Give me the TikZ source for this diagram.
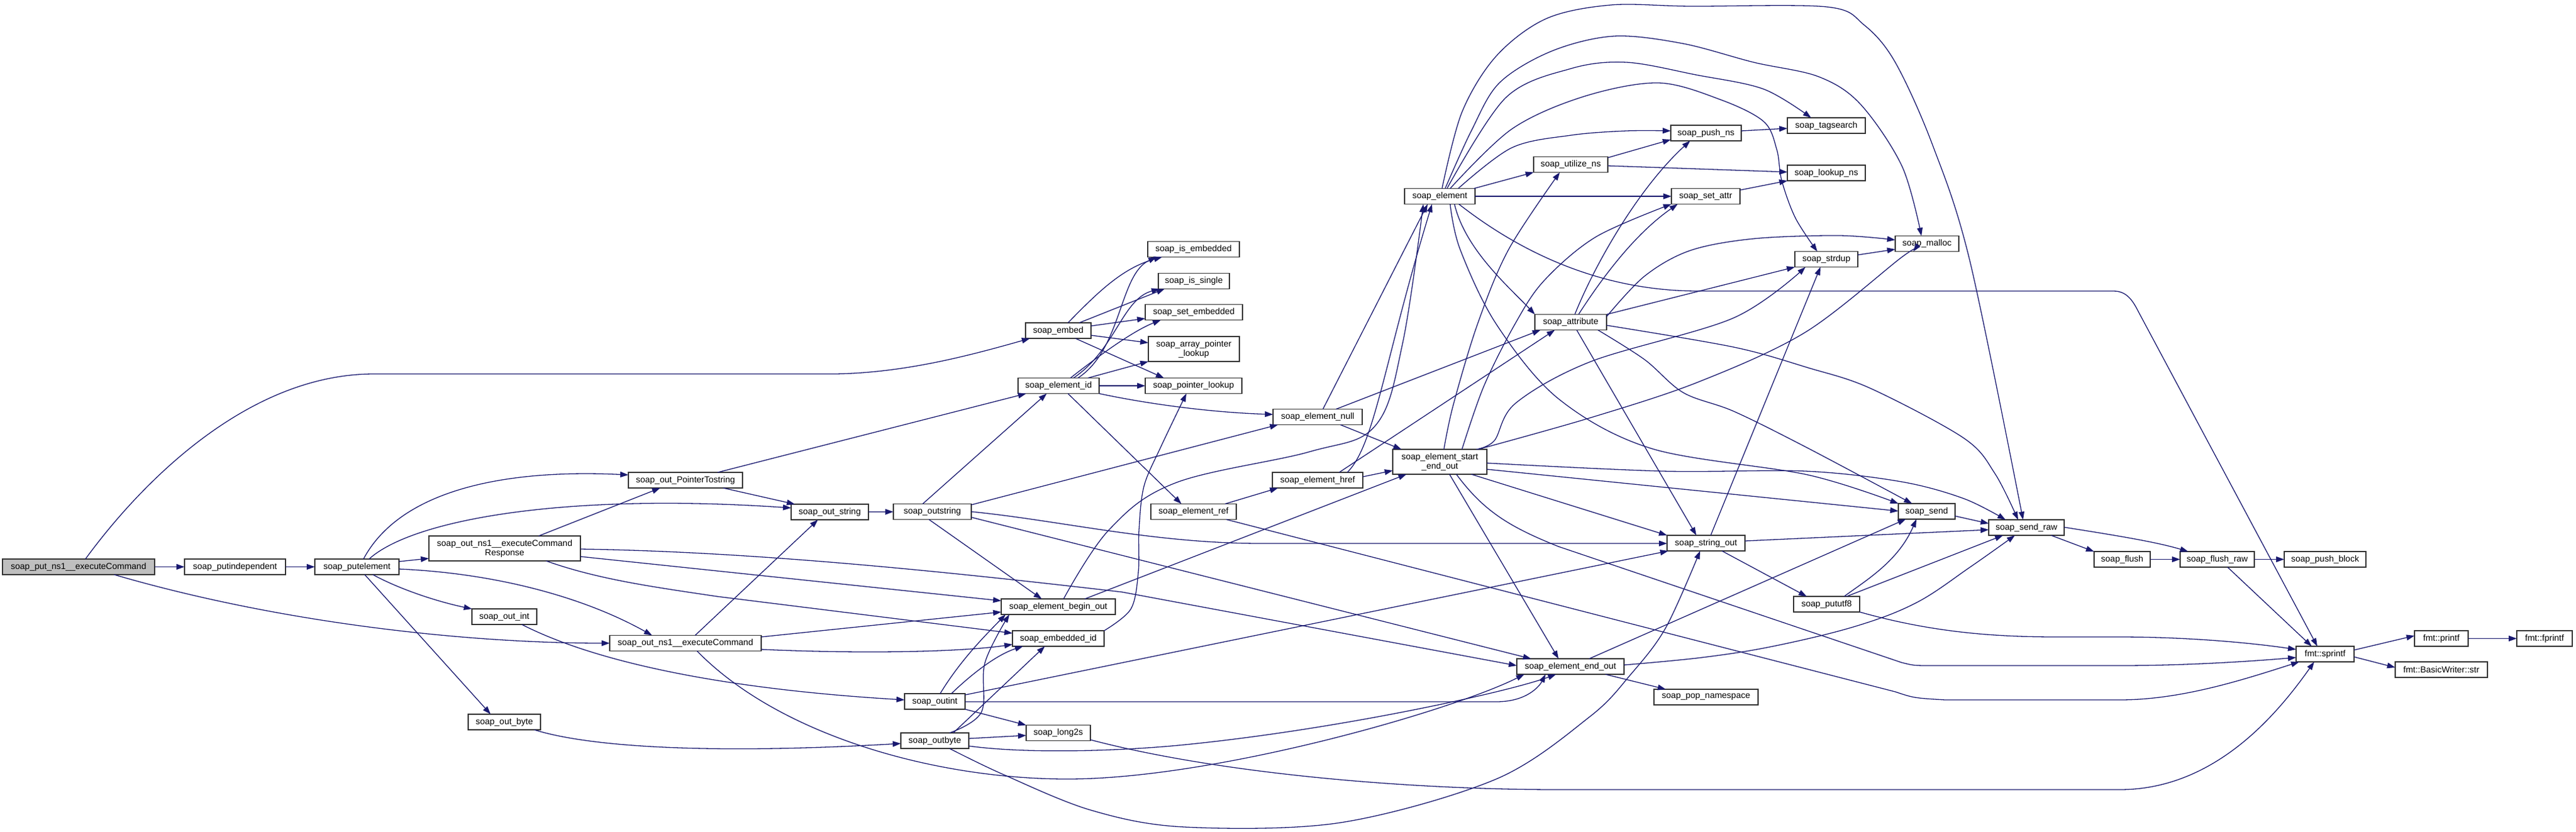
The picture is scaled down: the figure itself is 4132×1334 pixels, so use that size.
\documentclass[tikz,border=0pt]{standalone}
\usepackage{fontspec}
\setmainfont{Liberation Sans}
\usetikzlibrary{arrows.meta}
\definecolor{edgec}{HTML}{191970}
\definecolor{mainfill}{HTML}{BFBFBF}
\begin{document}
\begin{tikzpicture}[x=1pt,y=-1pt,
  fn/.style={draw=black!80, line width=1.5pt, fill=white, inner sep=0pt, outer sep=0pt,
    minimum height=25pt, align=center, font=\fontsize{14}{15}\selectfont},
  e/.style={draw=edgec, line width=1.3pt, -{Triangle[length=13pt,width=9pt]}}]
\fill[white] (0,0) rectangle (4132,1334);
\useasboundingbox (0,0) rectangle (4132,1334);
% nodes
\node[fn, fill=mainfill, minimum width=244pt] (main) at (126,909.5) {soap\_put\_ns1\_\_executeCommand};
\node[fn, minimum width=162pt] (putind) at (377,909.5) {soap\_putindependent};
\node[fn, minimum width=135pt] (putel) at (572.5,909.5) {soap\_putelement};
\node[fn, minimum width=183pt] (ptr) at (1099.5,770.5) {soap\_out\_PointerTostring};
\node[fn, minimum width=124pt] (outstr) at (1331,821.5) {soap\_out\_string};
\node[fn, minimum width=243pt, minimum height=40pt] (resp) at (809.5,880) {soap\_out\_ns1\_\_executeCommand\\Response};
\node[fn, minimum width=104pt] (ointx) at (809,989.5) {soap\_out\_int};
\node[fn, minimum width=243pt] (outns1) at (1099.5,1032) {soap\_out\_ns1\_\_executeCommand};
\node[fn, minimum width=116pt] (obytex) at (809,1158.5) {soap\_out\_byte};
\node[fn, minimum width=125pt] (ostring) at (1495.5,821) {soap\_outstring};
\node[fn, minimum width=183pt] (bout) at (1697.5,973.5) {soap\_element\_begin\_out};
\node[fn, minimum width=147pt] (emid) at (1697.5,1024.5) {soap\_embedded\_id};
\node[fn, minimum width=97pt] (oint) at (1499.5,1125.5) {soap\_outint};
\node[fn, minimum width=103pt] (l2s) at (1697.5,1176) {soap\_long2s};
\node[fn, minimum width=109pt] (obyte) at (1499.5,1188.5) {soap\_outbyte};
\node[fn, minimum width=147pt] (isemb) at (1914.5,400) {soap\_is\_embedded};
\node[fn, minimum width=114pt] (issgl) at (1915,451) {soap\_is\_single};
\node[fn, minimum width=156pt] (setemb) at (1915,501) {soap\_set\_embedded};
\node[fn, minimum width=146pt, minimum height=40pt] (arrpl) at (1915,560) {soap\_array\_pointer\\\_lookup};
\node[fn, minimum width=155pt] (ptrl) at (1914.5,619) {soap\_pointer\_lookup};
\node[fn, minimum width=105pt] (embed) at (1697.5,530.5) {soap\_embed};
\node[fn, minimum width=130pt] (eid) at (1698,619) {soap\_element\_id};
\node[fn, minimum width=143pt] (enull) at (2113.5,669) {soap\_element\_null};
\node[fn, minimum width=145pt] (ehref) at (2113.5,770.5) {soap\_element\_href};
\node[fn, minimum width=137pt] (eref) at (1914.5,821) {soap\_element\_ref};
\node[fn, minimum width=151pt, minimum height=40pt] (seo) at (2309.5,741) {soap\_element\_start\\\_end\_out};
\node[fn, minimum width=172pt] (eeo) at (2519,1069.5) {soap\_element\_end\_out};
\node[fn, minimum width=113pt] (elem) at (2309.5,315) {soap\_element};
\node[fn, minimum width=119pt] (utns) at (2519.5,264) {soap\_utilize\_ns};
\node[fn, minimum width=113pt] (pushns) at (2736.5,213.5) {soap\_push\_ns};
\node[fn, minimum width=110pt] (setattr) at (2736,315) {soap\_set\_attr};
\node[fn, minimum width=125pt] (tags) at (2929.5,201.5) {soap\_tagsearch};
\node[fn, minimum width=125pt] (lkns) at (2929.5,277.5) {soap\_lookup\_ns};
\node[fn, minimum width=102pt] (malloc) at (3091,391) {soap\_malloc};
\node[fn, minimum width=101pt] (strdup) at (2929.5,416) {soap\_strdup};
\node[fn, minimum width=115pt] (attr) at (2519.5,517) {soap\_attribute};
\node[fn, minimum width=125pt] (sout) at (2736.5,871.5) {soap\_string\_out};
\node[fn, minimum width=91pt] (send) at (3090.5,820.5) {soap\_send};
\node[fn, minimum width=121pt] (sraw) at (3250.5,846.5) {soap\_send\_raw};
\node[fn, minimum width=106pt] (putf8) at (2930,969.5) {soap\_pututf8};
\node[fn, minimum width=167pt] (popns) at (2736.5,1118.5) {soap\_pop\_namespace};
\node[fn, minimum width=90pt] (flush) at (3404,897.5) {soap\_flush};
\node[fn, minimum width=119pt] (fraw) at (3556.5,897.5) {soap\_flush\_raw};
\node[fn, minimum width=131pt] (pblock) at (3729.5,897.5) {soap\_push\_block};
\node[fn, minimum width=93pt] (sprintf) at (3729.5,1049.5) {fmt::sprintf};
\node[fn, minimum width=86pt] (printf) at (3916,1024.5) {fmt::printf};
\node[fn, minimum width=89pt] (fprintf) at (4081.5,1024.5) {fmt::fprintf};
\node[fn, minimum width=148pt] (bwstr) at (3916,1074.5) {fmt::BasicWriter::str};
% edges
\draw[e] (main) -- (putind);
\draw[e] (putind) -- (putel);
\draw[e] (main.north -| 137,0) .. controls (230,770) and (400,600) .. (600,600) -- (1340,600) .. controls (1450,598) and (1550,572) .. (embed.south -| 1652,0);
\draw[e] (main.south -| 183,0) .. controls (450,1000) and (750,1032) .. (outns1.west);
\draw[e] (putel.east |- 0,901) -- (resp.west |- 0,896);
\draw[e] (putel.north -| 583,0) .. controls (640,790) and (800,752) .. (ptr.west |- 0,762);
\draw[e] (putel.north -| 592,0) .. controls (660,835) and (900,790) .. (outstr.west |- 0,815);
\draw[e] (putel.south -| 598,0) .. controls (640,945) and (700,965) .. (ointx.north west);
\draw[e] (putel.south -| 585,0) -- (obytex.north -| 787,0);
\draw[e] (putel.east |- 0,913) .. controls (800,920) and (940,960) .. (outns1.north -| 1046,0);
\draw[e] (resp.north -| 864,0) -- (ptr.south -| 1059,0);
\draw[e] (resp.east |- 0,893) -- (bout.west |- 0,964);
\draw[e] (resp.south -| 876,0) .. controls (960,930) and (1050,942) .. (1150,957) -- (emid.west |- 0,1016);
\draw[e] (resp.east |- 0,881) .. controls (1200,885) and (1500,915) .. (1800,950) -- (eeo.west |- 0,1068);
\draw[e] (outns1.north -| 1115,0) -- (outstr.south -| 1312,0);
\draw[e] (outns1.east |- 0,1022) -- (bout.west |- 0,982);
\draw[e] (outns1.east |- 0,1042) .. controls (1400,1050) and (1550,1045) .. (emid.west |- 0,1034);
\draw[e] (outns1.south -| 1118,0) .. controls (1250,1180) and (1500,1250) .. (1712,1250) .. controls (1950,1250) and (2330,1140) .. (eeo.south -| 2445,0);
\draw[e] (ptr.north -| 1151,0) -- (eid.south -| 1646,0);
\draw[e] (ptr.south -| 1160,0) -- (outstr.north -| 1275,0);
\draw[e] (outstr) -- (ostring);
\draw[e] (ostring.north -| 1480,0) -- (eid.south -| 1679,0);
\draw[e] (ostring.east |- 0,810) -- (enull.south -| 2050,0);
\draw[e] (ostring.south -| 1490,0) -- (bout.north -| 1671,0);
\draw[e] (ostring.east |- 0,821) .. controls (1700,835) and (1850,872) .. (2023,872) -- (sout.west |- 0,872);
\draw[e] (ostring.east |- 0,830) -- (eeo.north -| 2456,0);
\draw[e] (eid.north -| 1729,0) .. controls (1800,560) and (1795,440) .. (isemb.south -| 1855,0);
\draw[e] (eid.north -| 1722,0) .. controls (1790,560) and (1800,480) .. (issgl.south -| 1860,0);
\draw[e] (eid.north -| 1717,0) .. controls (1770,565) and (1820,530) .. (setemb.south -| 1862,0);
\draw[e] (eid.north -| 1745,0) -- (arrpl.south west);
\draw[e] (eid) -- (ptrl);
\draw[e] (eid.south east) .. controls (1850,650) and (1950,662) .. (enull.west |- 0,665);
\draw[e] (eid.south -| 1713,0) -- (eref.north -| 1895,0);
\draw[e] (embed.north -| 1713,0) .. controls (1760,470) and (1800,430) .. (isemb.south -| 1864,0);
\draw[e] (embed.north -| 1731,0) -- (issgl.south -| 1868,0);
\draw[e] (embed.east |- 0,523) -- (setemb.west |- 0,511);
\draw[e] (embed.east |- 0,538) -- (arrpl.west |- 0,550);
\draw[e] (embed.south -| 1725,0) -- (ptrl.north -| 1867,0);
\draw[e] (enull.north -| 2122,0) -- (elem.south -| 2290,0);
\draw[e] (enull.north -| 2143,0) -- (attr.south -| 2471,0);
\draw[e] (enull.south -| 2150,0) -- (seo.north -| 2248,0);
\draw[e] (eref.north -| 1965,0) -- (ehref.south -| 2050,0);
\draw[e] (eref.south -| 1967,0) -- (3040,1110) .. controls (3070,1120) .. (3120,1123) -- (3400,1123) .. controls (3500,1123) and (3600,1090) .. (sprintf.south -| 3688,0);
\draw[e] (ehref.north -| 2161,0) .. controls (2205,715) and (2220,580) .. (elem.south -| 2297,0);
\draw[e] (ehref.north -| 2148,0) -- (attr.south -| 2494,0);
\draw[e] (ehref.east |- 0,765) -- (seo.west |- 0,755);
\draw[e] plot[smooth, tension=0.6] coordinates {(bout.north -| 1706,0) (1779,850) (1885,775) (2100,725) (2206,683) (2250,550) (elem.south -| 2283,0)};
\draw[e] (bout.north -| 1740,0) -- (seo.south -| 2256,0);
\draw[e] (eeo.north -| 2549,0) -- (send.south -| 3057,0);
\draw[e] plot[smooth, tension=0.6] coordinates {(eeo.east |- 0,1067) (2730,1055) (2844,1037) (2976,1005) (3074,967) (3160,910) (sraw.south -| 3232,0)};
\draw[e] (eeo.south -| 2575,0) -- (popns.north -| 2672,0);
\draw[e] (sout.north -| 2744,0) -- (strdup.south -| 2920,0);
\draw[e] (sout.east |- 0,868) -- (sraw.west |- 0,850);
\draw[e] (sout.south -| 2762,0) -- (putf8.north -| 2898,0);
\draw[e] (send.east |- 0,828) -- (sraw.west |- 0,840);
\draw[e] (putf8.north -| 2958,0) .. controls (2995,930) and (3045,900) .. (send.south -| 3074,0);
\draw[e] (putf8.north -| 2962,0) -- (sraw.south -| 3213,0);
\draw[e] (putf8.east |- 0,982) .. controls (3100,1015) and (3200,1022) .. (3300,1022) -- (3400,1022) .. controls (3500,1022) and (3600,1030) .. (sprintf.west |- 0,1042);
\draw[e] (sraw.south -| 3290,0) -- (flush.north west);
\draw[e] (sraw.east |- 0,846) .. controls (3400,860) and (3460,870) .. (fraw.north -| 3510,0);
\draw[e] (flush) -- (fraw);
\draw[e] (fraw) -- (pblock);
\draw[e] (fraw.south -| 3573,0) -- (sprintf.north -| 3708,0);
\draw[e] (sprintf.east |- 0,1043) -- (printf.west |- 0,1020);
\draw[e] (sprintf.east |- 0,1054) -- (bwstr.west |- 0,1071);
\draw[e] (printf) -- (fprintf);
\draw[e] plot[smooth, tension=0.55] coordinates {(elem.north -| 2313,0) (2345,180) (2400,90) (2480,30) (2584,8) (2711,10) (2930,11) (2990,40) (3040,100) (3100,233) (3160,420) (sraw.north -| 3245,0)};
\draw[e] plot[smooth, tension=0.55] coordinates {(elem.north -| 2318,0) (2360,210) (2405,133) (2489,82) (2589,58) (2700,70) (2813,100) (2917,123) (2984,167) (3051,267) (malloc.north -| 3082,0)};
\draw[e] plot[smooth, tension=0.55] coordinates {(elem.north -| 2321,0) (2415,157) (2520,110) (2609,100) (2720,120) (2829,143) (tags.north -| 2905,0)};
\draw[e] plot[smooth, tension=0.55] coordinates {(elem.north -| 2326,0) (2425,207) (2540,155) (2660,133) (2760,160) (2829,195) (2850,240) (2858,290) (2880,350) (strdup.north -| 2915,0)};
\draw[e] plot[smooth, tension=0.55] coordinates {(elem.north -| 2339,0) (2425,237) (2520,217) (2609,210) (pushns.west |- 0,210)};
\draw[e] (elem.north -| 2364,0) -- (utns.south west);
\draw[e] (elem) -- (setattr);
\draw[e] (elem.south -| 2333,0) .. controls (2350,400) and (2420,460) .. (attr.north west);
\draw[e] plot[smooth, tension=0.55] coordinates {(elem.south -| 2326,0) (2342,400) (2400,520) (2500,640) (2650,720) (2900,762) (send.west |- 0,808)};
\draw[e] (elem.south -| 2340,0) .. controls (2420,390) and (2550,467) .. (2724,467) -- (3390,467) .. controls (3410,467) and (3420,480) .. (3430,500) -- (sprintf.north -| 3717,0);
\draw[e] (utns.east |- 0,253) -- (pushns.west |- 0,224);
\draw[e] (utns.east |- 0,266) -- (lkns.west |- 0,276);
\draw[e] (pushns.east |- 0,210) -- (tags.west |- 0,206);
\draw[e] (setattr.east |- 0,305) -- (lkns.south west);
\draw[e] (strdup.east |- 0,409) -- (malloc.west |- 0,400);
\draw[e] (attr.north -| 2526,0) .. controls (2560,420) and (2630,300) .. (pushns.south -| 2711,0);
\draw[e] (attr.north -| 2532,0) .. controls (2580,430) and (2630,370) .. (setattr.south -| 2691,0);
\draw[e] plot[smooth, tension=0.55] coordinates {(attr.east |- 0,508) (2638,443) (2711,402) (2813,383) (2950,378) (malloc.west |- 0,385)};
\draw[e] (attr.north east) -- (strdup.south west);
\draw[e] (attr.south -| 2529,0) -- (sout.north -| 2721,0);
\draw[e] plot[smooth, tension=0.55] coordinates {(attr.east |- 0,522) (2781,557) (2900,590) (3000,623) (3150,703) (3200,760) (sraw.north -| 3237,0)};
\draw[e] plot[smooth, tension=0.55] coordinates {(attr.south -| 2563,0) (2638,577) (2700,630) (2781,660) (2896,717) (send.north -| 3067,0)};
\draw[e] plot[smooth, tension=0.55] coordinates {(seo.north -| 2316,0) (2331,650) (2370,520) (2420,400) (utns.south -| 2502,0)};
\draw[e] plot[smooth, tension=0.55] coordinates {(seo.north -| 2345,0) (2380,620) (2430,520) (2477,450) (2560,380) (setattr.south -| 2681,0)};
\draw[e] plot[smooth, tension=0.55] coordinates {(seo.north -| 2368,0) (2397,707) (2431,647) (2552,580) (2781,510) (strdup.south -| 2896,0)};
\draw[e] plot[smooth, tension=0.55] coordinates {(seo.north -| 2371,0) (2552,670) (2724,613) (2896,533) (3050,413) (malloc.south -| 3069,0)};
\draw[e] plot[smooth, tension=0.55] coordinates {(seo.east |- 0,743) (2667,756) (2896,756) (3050,773) (3150,800) (sraw.north -| 3217,0)};
\draw[e] (seo.east |- 0,753) -- (send.west |- 0,820);
\draw[e] (seo.south -| 2360,0) -- (sout.north west);
\draw[e] (seo.south -| 2325,0) -- (eeo.north -| 2500,0);
\draw[e] (seo.south -| 2336,0) .. controls (2380,820) and (2420,845) .. (2500,877) -- (3050,1063) .. controls (3070,1068) .. (3100,1068) -- (3400,1068) .. controls (3500,1068) and (3600,1062) .. (sprintf.west |- 0,1055);
\draw[e] (oint.north -| 1508,0) .. controls (1540,1060) and (1580,1020) .. (bout.south -| 1613,0);
\draw[e] (oint.north -| 1526,0) .. controls (1560,1080) and (1600,1050) .. (emid.south -| 1641,0);
\draw[e] (oint.south east) -- (l2s.north west);
\draw[e] (oint.east |- 0,1126) -- (2400,1126) .. controls (2450,1126) and (2470,1100) .. (eeo.south -| 2479,0);
\draw[e] (oint.east |- 0,1115) -- (sout.south -| 2676,0);
\draw[e] plot[smooth, tension=0.6] coordinates {(obyte.north -| 1523,0) (1574,1143) (1580,1063) (bout.south -| 1619,0)};
\draw[e] (obyte.north -| 1529,0) -- (emid.south -| 1676,0);
\draw[e] (obyte.east |- 0,1185) -- (l2s.west |- 0,1180);
\draw[e] (obyte.east |- 0,1197) .. controls (1650,1210) and (1800,1205) .. (1900,1195) .. controls (2150,1170) and (2420,1110) .. (eeo.south -| 2496,0);
\draw[e] plot[smooth, tension=0.55] coordinates {(obyte.south -| 1523,0) (1610,1243) (1750,1300) (1900,1327) (2150,1320) (2400,1250) (2550,1150) (2615,1083) (2672,1007) (sout.south -| 2727,0)};
\draw[e] (l2s.east |- 0,1187) .. controls (1950,1240) and (2250,1267) .. (2500,1267) -- (3400,1267) .. controls (3550,1267) and (3650,1150) .. (sprintf.south -| 3712,0);
\draw[e] (ointx.south -| 837,0) .. controls (950,1060) and (1150,1105) .. (oint.west |- 0,1123);
\draw[e] (obytex.south -| 857,0) .. controls (950,1200) and (1150,1210) .. (obyte.west |- 0,1193);
\draw[e] plot[smooth, tension=0.55] coordinates {(emid.north east) (1814,977) (1826,917) (1827,850) (1835,780) (1862,717) (ptrl.south -| 1903,0)};
\end{tikzpicture}
\end{document}
